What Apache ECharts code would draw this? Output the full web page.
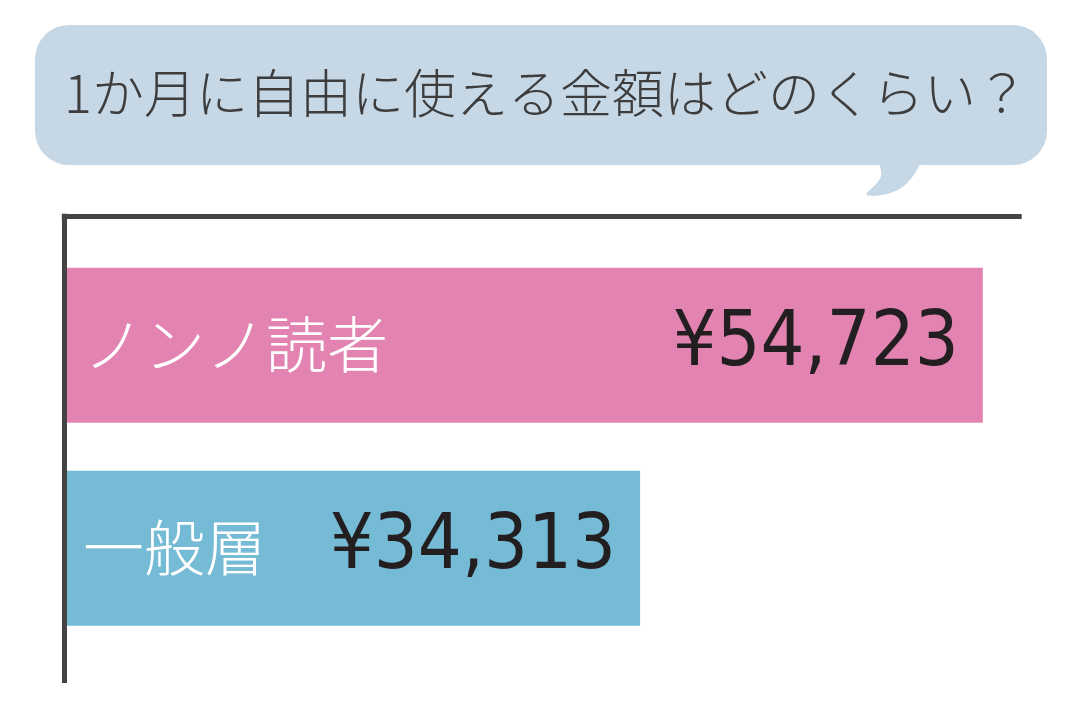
<!DOCTYPE html>
<html>
<head>
  <meta charset="utf-8">
  <title>1か月に自由に使える金額</title>
  <script src="https://cdn.jsdelivr.net/npm/echarts@6/dist/echarts.min.js"></script>
  <style>
    html, body { margin: 0; padding: 0; background: #fff; }
  </style>
</head>
<body>
  <div id="container" style="width: 1080px; height: 720px"></div>
  <script>
    // data
    var categories = ['ノンノ読者', '一般層'];
    var amounts = [54723, 34313];
    var barColors = ['#e283b2', '#76bbd6'];
    var titleText = '1か月に自由に使える金額はどのくらい？';

    var myChart = echarts.init(document.getElementById('container'));

    var frameLine = { color: '#444444', width: 5, cap: 'square' };

    var option = {
      backgroundColor: '#ffffff',
      animation: false,
      graphic: [
        // speech bubble
        {
          type: 'rect',
          shape: { x: 35, y: 25, width: 1012, height: 140, r: 34 },
          style: { fill: '#c6d7e6' },
          z: 1
        },
        {
          type: 'polygon',
          shape: {
            points: [[878, 150], [881, 176], [867, 195], [904, 186], [921, 150]],
            smooth: 0.4
          },
          style: { fill: '#c6d7e6' },
          z: 1
        },
        {
          type: 'text',
          x: 546,
          y: 93,
          style: {
            text: titleText,
            fill: '#3d3d3d',
            fontSize: 52,
            fontWeight: 300,
            fontFamily: '"Noto Sans CJK JP", sans-serif',
            textAlign: 'center',
            textVerticalAlign: 'middle'
          },
          z: 2
        }
      ],
      grid: [
        // bars
        { left: 64, right: 8.6, top: 243.8, bottom: 70.2 },
        // frame
        { left: 64.3, right: 60.8, top: 216.3, bottom: 39.5 }
      ],
      xAxis: [
        {
          gridIndex: 0,
          type: 'value',
          min: 0,
          max: 60000,
          axisLine: { show: false },
          axisTick: { show: false },
          axisLabel: { show: false },
          splitLine: { show: false }
        },
        {
          gridIndex: 1,
          type: 'value',
          position: 'top',
          min: 0,
          max: 1,
          z: 5,
          axisLine: { show: true, onZero: false, lineStyle: frameLine },
          axisTick: { show: false },
          axisLabel: { show: false },
          splitLine: { show: false }
        }
      ],
      yAxis: [
        {
          gridIndex: 0,
          type: 'category',
          data: categories,
          inverse: true,
          z: 10,
          axisLine: { show: false },
          axisTick: { show: false },
          axisLabel: {
            inside: true,
            margin: 19,
            color: '#ffffff',
            fontSize: 61,
            fontWeight: 300,
            fontFamily: '"Noto Sans CJK JP", sans-serif'
          }
        },
        {
          gridIndex: 1,
          type: 'value',
          min: 0,
          max: 1,
          z: 5,
          axisLine: { show: true, onZero: false, lineStyle: frameLine },
          axisTick: { show: false },
          axisLabel: { show: false },
          splitLine: { show: false }
        }
      ],
      series: [
        {
          type: 'bar',
          xAxisIndex: 0,
          yAxisIndex: 0,
          barWidth: 155,
          data: amounts.map(function (v, i) {
            return { value: v, itemStyle: { color: barColors[i] } };
          }),
          label: {
            show: true,
            position: 'insideRight',
            distance: 24,
            color: '#231f20',
            fontSize: 77,
            fontFamily: '"DejaVu Sans Condensed", "DejaVu Sans", sans-serif',
            formatter: function (p) {
              return '¥' + p.value.toLocaleString('en-US');
            }
          }
        }
      ]
    };
    myChart.setOption(option);
  </script>
</body>
</html>
